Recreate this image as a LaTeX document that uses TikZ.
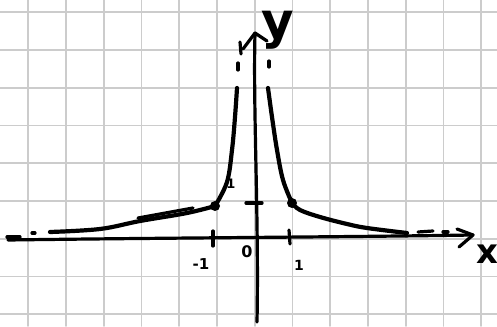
\documentclass[tikz,border=0pt]{standalone}
\usepackage{fontspec}
\setsansfont{DejaVu Sans}
\begin{document}
\begin{tikzpicture}[x=1pt,y=-1pt,line cap=round,line join=round,
  gridline/.style={draw=black!20,line width=1.8pt},
  axisline/.style={draw=black,line width=3.2pt},
  curveline/.style={draw=black,line width=4.2pt},
  dashline/.style={draw=black,line width=3.2pt},
  dot/.style={circle,fill=black,inner sep=0pt,minimum size=10pt},
  lbl/.style={inner sep=0pt,text=black,font=\sffamily\bfseries}]
\useasboundingbox (0,0) rectangle (497,326);
\fill[white] (0,0) rectangle (497,326);
% grid
\foreach \i in {0,...,12}{\draw[gridline] ({28.3+37.75*\i},0) -- ({28.3+37.75*\i},326);}
\foreach \j in {0,...,8}{\draw[gridline] (0,{12.3+37.75*\j}) -- (497,{12.3+37.75*\j});}
% axes
\coordinate (xs) at (8,240);
\coordinate (xe) at (473,235);
\coordinate (xa1) at (457,229);
\coordinate (xa2) at (459,247);
\draw[axisline] (xs) .. controls (150,238) and (350,237) .. (xe);
\draw[axisline] (xa1) -- (xe) -- (xa2);
\coordinate (ys) at (257,322);
\coordinate (ye) at (255,33);
\coordinate (ya1) at (243,49);
\coordinate (ya2) at (267,41);
\draw[axisline] (ys) .. controls (259,220) and (253,110) .. (ye);
\draw[axisline] (ya1) -- (ye) -- (ya2);
% ticks
\coordinate (tm1a) at (213,231); \coordinate (tm1b) at (213,246);
\coordinate (tp1a) at (289,230); \coordinate (tp1b) at (290,244);
\coordinate (ty1a) at (246,203); \coordinate (ty1b) at (262,203);
\draw[axisline] (tm1a) -- (tm1b);
\draw[axisline] (tp1a) -- (tp1b);
\draw[axisline] (ty1a) -- (ty1b);
% points
\node[dot] (pL) at (215,206) {};
\node[dot] (pR) at (292,203) {};
% left branch
\coordinate (l1) at (50,232);
\coordinate (l2) at (100,229);
\coordinate (l3) at (140,221);
\coordinate (l4) at (187,213);
\coordinate (l5) at (227,182);
\coordinate (l6) at (232,150);
\coordinate (l7) at (235,117);
\coordinate (l8) at (237,88);
\draw[curveline] plot[smooth,tension=0.6] coordinates {(l1) (l2) (l3) (l4) (pL.center)};
\draw[curveline] plot[smooth,tension=0.6] coordinates {(pL.center) (l5) (l6) (l7) (l8)};
\coordinate (ls1) at (138,218); \coordinate (ls2) at (193,208);
\draw[dashline] (ls1) -- (ls2);
% right branch
\coordinate (r1) at (300,210);
\coordinate (r2) at (320,217);
\coordinate (r3) at (347,224);
\coordinate (r4) at (367,228);
\coordinate (r5) at (407,233);
\coordinate (r6) at (283,180);
\coordinate (r7) at (277,150);
\coordinate (r8) at (272,117);
\coordinate (r9) at (268,88);
\draw[curveline] plot[smooth,tension=0.6] coordinates {(pR.center) (r1) (r2) (r3) (r4) (r5)};
\draw[curveline] plot[smooth,tension=0.6] coordinates {(pR.center) (r6) (r7) (r8) (r9)};
% dashed continuations
\coordinate (d1a) at (7,237); \coordinate (d1b) at (20,237);
\coordinate (d2a) at (32,233); \coordinate (d2b) at (35,233);
\coordinate (d3a) at (238,63); \coordinate (d3b) at (238,70);
\coordinate (d4a) at (240,42); \coordinate (d4b) at (241,54);
\coordinate (d5a) at (269,61); \coordinate (d5b) at (269,67);
\coordinate (d6a) at (418,232); \coordinate (d6b) at (433,231);
\coordinate (d7a) at (443,232); \coordinate (d7b) at (448,232);
\draw[dashline] (d1a) -- (d1b);
\draw[dashline] (d2a) -- (d2b);
\draw[dashline] (d3a) -- (d3b);
\draw[dashline] (d4a) -- (d4b);
\draw[dashline] (d5a) -- (d5b);
\draw[dashline] (d6a) -- (d6b);
\draw[dashline] (d7a) -- (d7b);
% labels
\node[lbl,font=\sffamily\bfseries\fontsize{34}{34}\selectfont] (lx) at (487,254) {x};
\node[lbl,font=\sffamily\bfseries\fontsize{50}{50}\selectfont] (ly) at (278,30) {y};
\node[lbl,font=\sffamily\bfseries\fontsize{16}{16}\selectfont] (l0) at (247,252) {0};
\node[lbl,font=\sffamily\bfseries\fontsize{15}{15}\selectfont] (lm1) at (201,264) {-1};
\node[lbl,font=\sffamily\bfseries\fontsize{14}{14}\selectfont] (lp1) at (299,265) {1};
\node[lbl,font=\sffamily\bfseries\fontsize{13}{13}\selectfont] (ly1) at (231,184) {1};
\end{tikzpicture}
\end{document}
